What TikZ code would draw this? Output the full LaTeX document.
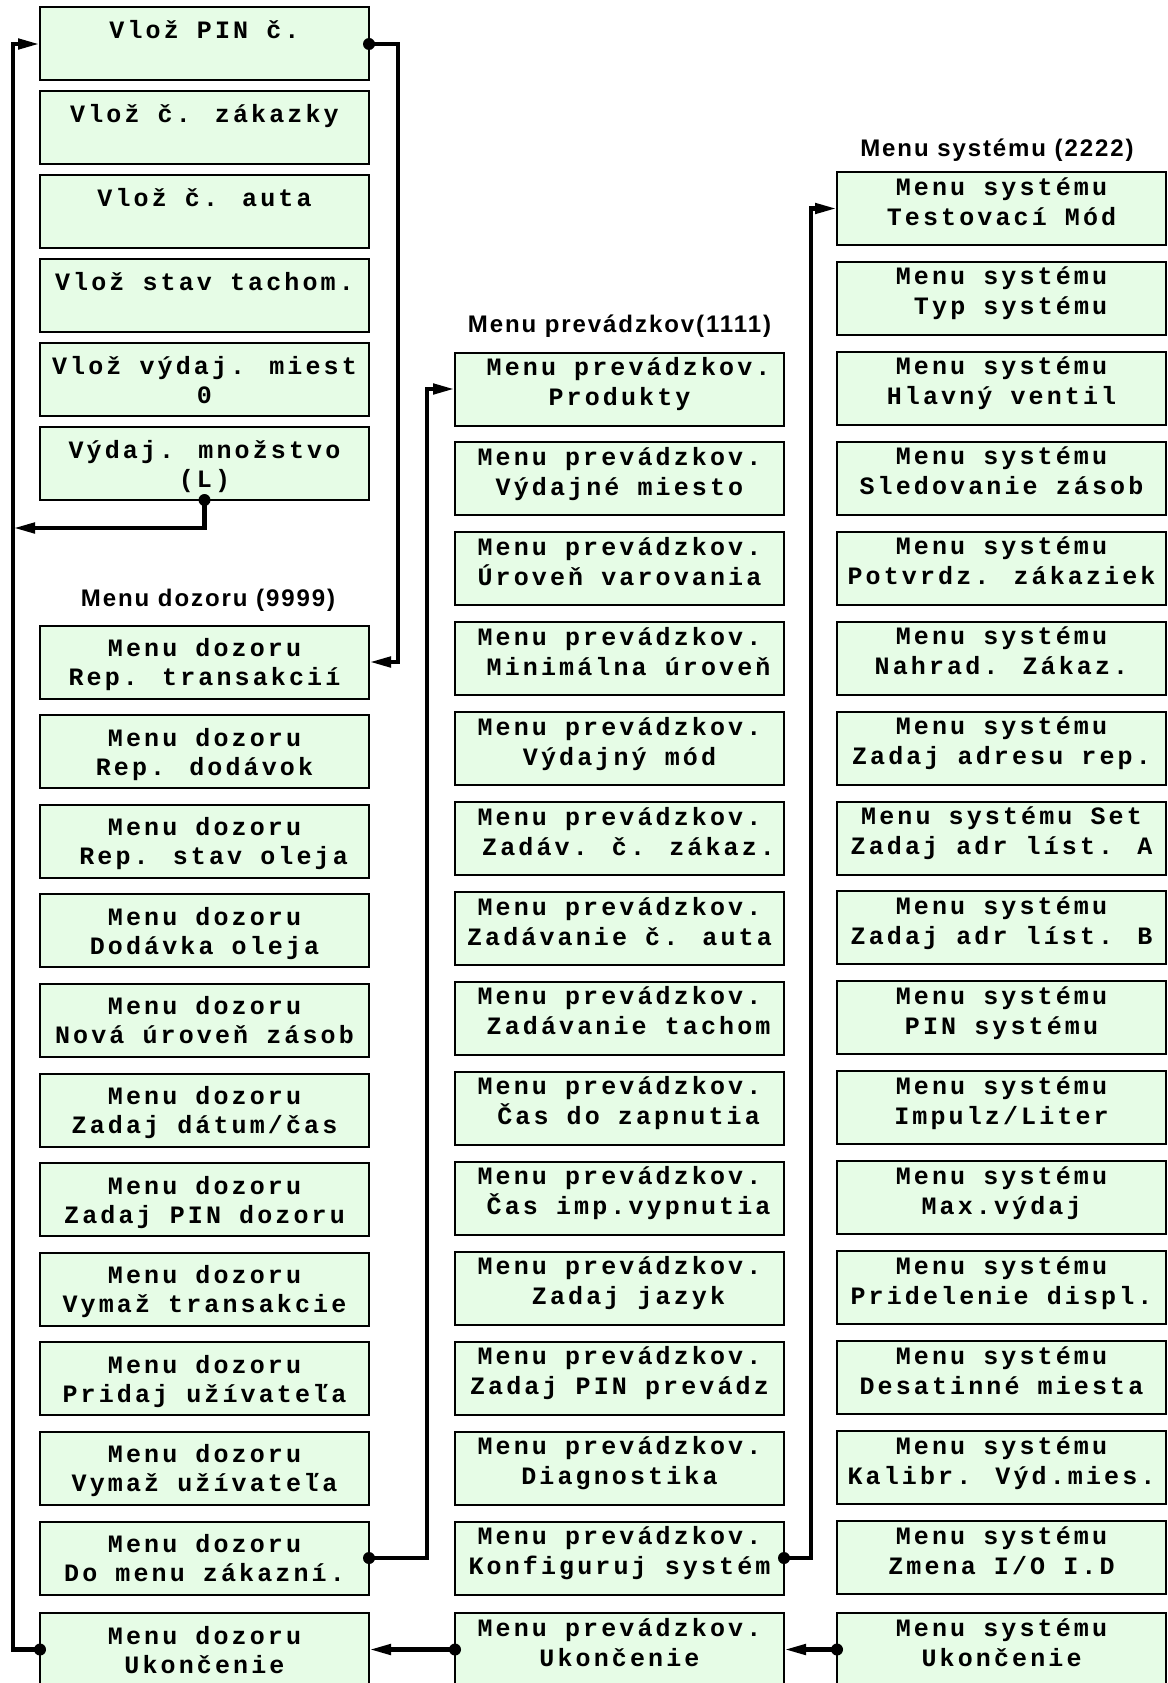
\documentclass[tikz,border=0pt]{standalone}
\usepackage{fontspec}
\usetikzlibrary{arrows.meta}
\newfontfamily\boxfontfam{Liberation Mono}[LetterSpace=12.5]
\newfontfamily\titlefontfam{Liberation Sans}[LetterSpace=8]
\definecolor{boxgreen}{RGB}{230,252,230}
\newcommand\bxfont{\boxfontfam\bfseries\fontsize{25}{29}\selectfont}
\newcommand\ttlfont{\titlefontfam\bfseries\fontsize{24}{28}\selectfont}
\newcommand\boxlines[4]{\vbox to 73pt{\offinterlineskip\hsize=329pt
  \vskip#1pt\hbox to 329pt{\hss\smash{#3}\hss}%
  \vskip\dimexpr#2pt-#1pt\relax\hbox to 329pt{\hss\smash{#4}\hss}\vfil}}
\newcommand\lineA[2]{\boxlines{31}{60}{#1}{#2}}
\newcommand\lineB[2]{\boxlines{23}{53}{#1}{#2}}
\tikzset{
  mb/.style={draw=black, line width=2pt, fill=boxgreen, inner sep=0pt, outer sep=0pt,
    anchor=north west, font=\bxfont},
  ttl/.style={anchor=base, inner sep=0pt, font=\ttlfont},
  conn/.style={line width=4.5pt, -{Triangle[length=22pt,width=10pt]}},
  dot/.style={fill=black}
}
\begin{document}
\begin{tikzpicture}[x=1pt,y=-1pt]
\useasboundingbox (0,0) rectangle (1167,1683);
% ---------- column 1, top group
\node[mb] (v1) at (40,7.5)   {\lineA{Vlož PIN č.}{}};
\node[mb] (v2) at (40,91.4)  {\lineA{Vlož č. zákazky}{}};
\node[mb] (v3) at (40,175.3) {\lineA{Vlož č. auta}{}};
\node[mb] (v4) at (40,259.2) {\lineA{Vlož stav tachom.}{}};
\node[mb] (v5) at (40,343.1) {\lineA{Vlož výdaj. miest}{0}};
\node[mb] (v6) at (40,427)   {\lineA{Výdaj. množstvo}{(L)}};
% ---------- column 1, supervisor menu
\node[ttl] (t1) at (208,606) {Menu dozoru (9999)};
\node[mb] (d1)  at (40,625.5)  {\lineA{Menu dozoru}{Rep. transakcií}};
\node[mb] (d2)  at (40,715.1)  {\lineA{Menu dozoru}{Rep. dodávok}};
\node[mb] (d3)  at (40,804.7)  {\lineA{Menu dozoru}{\ Rep. stav oleja}};
\node[mb] (d4)  at (40,894.3)  {\lineA{Menu dozoru}{Dodávka oleja}};
\node[mb] (d5)  at (40,983.9)  {\lineA{Menu dozoru}{Nová úroveň zásob}};
\node[mb] (d6)  at (40,1073.5) {\lineA{Menu dozoru}{Zadaj dátum/čas}};
\node[mb] (d7)  at (40,1163.1) {\lineA{Menu dozoru}{Zadaj PIN dozoru}};
\node[mb] (d8)  at (40,1252.7) {\lineA{Menu dozoru}{Vymaž transakcie}};
\node[mb] (d9)  at (40,1342.3) {\lineA{Menu dozoru}{Pridaj užívateľa}};
\node[mb] (d10) at (40,1431.9) {\lineA{Menu dozoru}{Vymaž užívateľa}};
\node[mb] (d11) at (40,1521.5) {\lineA{Menu dozoru}{Do menu zákazní.}};
\node[mb] (d12) at (40,1613)   {\lineA{Menu dozoru}{Ukončenie}};
% ---------- column 2
\node[ttl] (t2) at (619.5,332) {Menu prevádzkov(1111)};
\node[mb] (p1)  at (455,352.5)  {\lineB{\ Menu prevádzkov.}{Produkty}};
\node[mb] (p2)  at (455,442.4)  {\lineB{Menu prevádzkov.}{Výdajné miesto}};
\node[mb] (p3)  at (455,532.3)  {\lineB{Menu prevádzkov.}{Úroveň varovania}};
\node[mb] (p4)  at (455,622.3)  {\lineB{Menu prevádzkov.}{\ Minimálna úroveň}};
\node[mb] (p5)  at (455,712.2)  {\lineB{Menu prevádzkov.}{Výdajný mód}};
\node[mb] (p6)  at (455,802.1)  {\lineB{Menu prevádzkov.}{\ Zadáv. č. zákaz.}};
\node[mb] (p7)  at (455,892.0)  {\lineB{Menu prevádzkov.}{Zadávanie č. auta}};
\node[mb] (p8)  at (455,981.9)  {\lineB{Menu prevádzkov.}{\ Zadávanie tachom}};
\node[mb] (p9)  at (455,1071.9) {\lineB{Menu prevádzkov.}{\ Čas do zapnutia}};
\node[mb] (p10) at (455,1161.8) {\lineB{Menu prevádzkov.}{\ Čas imp.vypnutia}};
\node[mb] (p11) at (455,1251.7) {\lineB{Menu prevádzkov.}{\ Zadaj jazyk}};
\node[mb] (p12) at (455,1341.6) {\lineB{Menu prevádzkov.}{Zadaj PIN prevádz}};
\node[mb] (p13) at (455,1431.5) {\lineB{Menu prevádzkov.}{Diagnostika}};
\node[mb] (p14) at (455,1521.5) {\lineB{Menu prevádzkov.}{Konfiguruj systém}};
\node[mb] (p15) at (455,1613)   {\lineB{Menu prevádzkov.}{Ukončenie}};
% ---------- column 3
\node[ttl] (t3) at (997,157) {Menu systému (2222)};
\node[mb] (s1)  at (837,172)    {\lineB{Menu systému}{Testovací Mód}};
\node[mb] (s2)  at (837,261.9)  {\lineB{Menu systému}{\ Typ systému}};
\node[mb] (s3)  at (837,351.9)  {\lineB{Menu systému}{Hlavný ventil}};
\node[mb] (s4)  at (837,441.8)  {\lineB{Menu systému}{Sledovanie zásob}};
\node[mb] (s5)  at (837,531.7)  {\lineB{Menu systému}{Potvrdz. zákaziek}};
\node[mb] (s6)  at (837,621.7)  {\lineB{Menu systému}{Nahrad. Zákaz.}};
\node[mb] (s7)  at (837,711.6)  {\lineB{Menu systému}{Zadaj adresu rep.}};
\node[mb] (s8)  at (837,801.5)  {\lineB{Menu systému Set}{Zadaj adr líst. A}};
\node[mb] (s9)  at (837,891.4)  {\lineB{Menu systému}{Zadaj adr líst. B}};
\node[mb] (s10) at (837,981.4)  {\lineB{Menu systému}{PIN systému}};
\node[mb] (s11) at (837,1071.3) {\lineB{Menu systému}{Impulz/Liter}};
\node[mb] (s12) at (837,1161.2) {\lineB{Menu systému}{Max.výdaj}};
\node[mb] (s13) at (837,1251.2) {\lineB{Menu systému}{Pridelenie displ.}};
\node[mb] (s14) at (837,1341.1) {\lineB{Menu systému}{Desatinné miesta}};
\node[mb] (s15) at (837,1431)   {\lineB{Menu systému}{Kalibr. Výd.mies.}};
\node[mb] (s16) at (837,1521)   {\lineB{Menu systému}{Zmena I/O I.D}};
\node[mb] (s17) at (837,1613)   {\lineB{Menu systému}{Ukončenie}};
% ---------- connectors
\coordinate (bus) at (13,528);
\draw[conn] (v1.east) -- ++(29,0) |- (d1.east);
\draw[conn] (d12.west) -- ++(-27,0) |- (v1.west);
\draw[conn] (v6.south) |- (bus);
\draw[conn] (d11.east) -- ++(58,0) |- (p1.west);
\draw[conn] (p14.east) -- ++(27,0) |- (s1.west);
\draw[conn] (p15.west) -- (d12.east);
\draw[conn] (s17.west) -- (p15.east);
% ---------- dots
\fill[dot] (v1.east) circle[radius=6pt];
\fill[dot] (v6.south) circle[radius=6pt];
\fill[dot] (d12.west) circle[radius=6pt];
\fill[dot] (d11.east) circle[radius=6pt];
\fill[dot] (p14.east) circle[radius=6pt];
\fill[dot] (p15.west) circle[radius=6pt];
\fill[dot] (s17.west) circle[radius=6pt];
\end{tikzpicture}
\end{document}
